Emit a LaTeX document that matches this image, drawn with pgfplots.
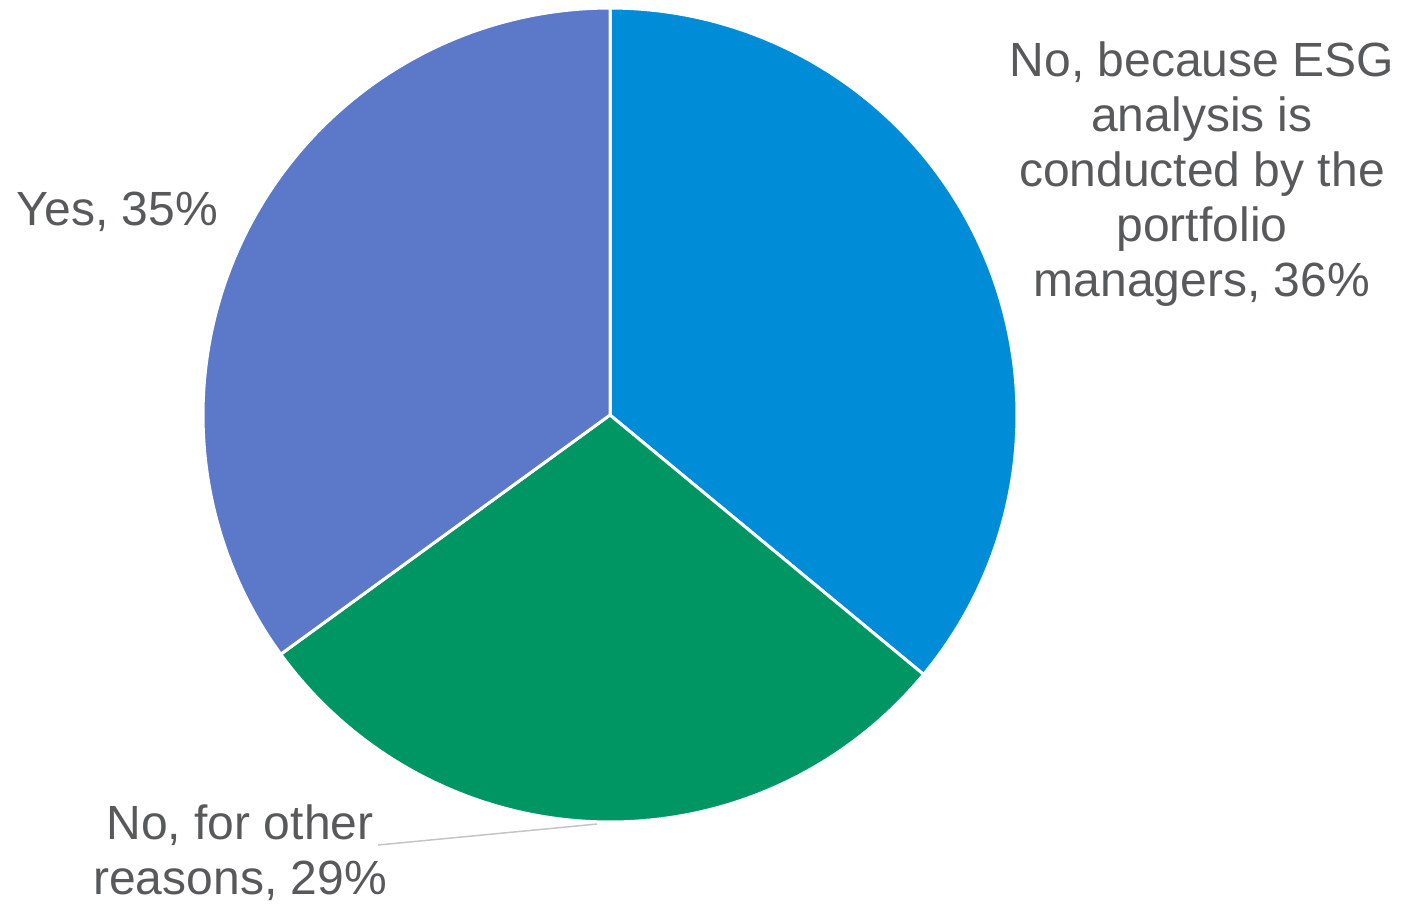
\documentclass[border=0pt]{standalone}
\usepackage{pgfplots}
\usepackage{pgfplotstable}
\pgfplotsset{compat=1.18}
\usepackage{fontspec}
\setmainfont{Liberation Sans}
\definecolor{cBlue}{RGB}{0,140,214}
\definecolor{cGreen}{RGB}{0,150,100}
\definecolor{cPurple}{RGB}{91,120,201}
\definecolor{cText}{RGB}{88,89,91}
\definecolor{cLead}{RGB}{196,196,196}

\pgfplotstableread{
share
36
29
35
}\piedata

\begin{document}%
\begin{tikzpicture}
\pgfplotstablegetelem{0}{share}\of\piedata \let\vA\pgfplotsretval
\pgfplotstablegetelem{1}{share}\of\piedata \let\vB\pgfplotsretval
\pgfplotstablegetelem{2}{share}\of\piedata \let\vC\pgfplotsretval
\pgfmathsetmacro{\aZero}{90}
\pgfmathsetmacro{\aOne}{90-3.6*\vA}
\pgfmathsetmacro{\aTwo}{\aOne-3.6*\vB}
\pgfmathsetmacro{\aThree}{\aTwo-3.6*\vC}
\begin{axis}[
  name=pie,
  x=203.5pt, y=203.5pt,
  scale only axis,
  hide axis,
  clip=false,
  xmin=-1.4988, xmax=1.9435,
  ymin=-1.199, ymax=1.0197,
]
\addplot[fill=cBlue, draw=white, line width=1.5pt, line join=round, domain=\aOne:\aZero, samples=120, variable=\t]
  ({cos(\t)},{sin(\t)}) -- (axis cs:0,0) -- cycle;
\addplot[fill=cGreen, draw=white, line width=1.5pt, line join=round, domain=\aTwo:\aOne, samples=120, variable=\t]
  ({cos(\t)},{sin(\t)}) -- (axis cs:0,0) -- cycle;
\addplot[fill=cPurple, draw=white, line width=1.5pt, line join=round, domain=\aThree:\aTwo, samples=120, variable=\t]
  ({cos(\t)},{sin(\t)}) -- (axis cs:0,0) -- cycle;
\draw[cLead, line width=0.75pt] (axis cs:-0.570,-1.0565) -- (axis cs:-0.032,-1.005);
\node[font=\fontsize{24}{27.5}\selectfont, text=cText, align=center, inner sep=0pt, anchor=center]
  at (axis cs:1.4545,0.591) {No, because ESG\\analysis is\\conducted by the\\portfolio\\managers, 36\%};
\node[font=\fontsize{24}{27.5}\selectfont, text=cText, inner sep=0pt, anchor=base]
  at (axis cs:-1.2101,0.4668) {Yes, 35\%};
\node[font=\fontsize{24}{27.5}\selectfont, text=cText, align=center, inner sep=0pt, anchor=center]
  at (axis cs:-0.909,-1.0745) {No, for other\\reasons, 29\%};
\coordinate (bl) at (rel axis cs:0,0);
\coordinate (tr) at (rel axis cs:1,1);
\end{axis}
\pgfresetboundingbox
\path[use as bounding box] (bl) rectangle (tr);
\end{tikzpicture}%
\end{document}
